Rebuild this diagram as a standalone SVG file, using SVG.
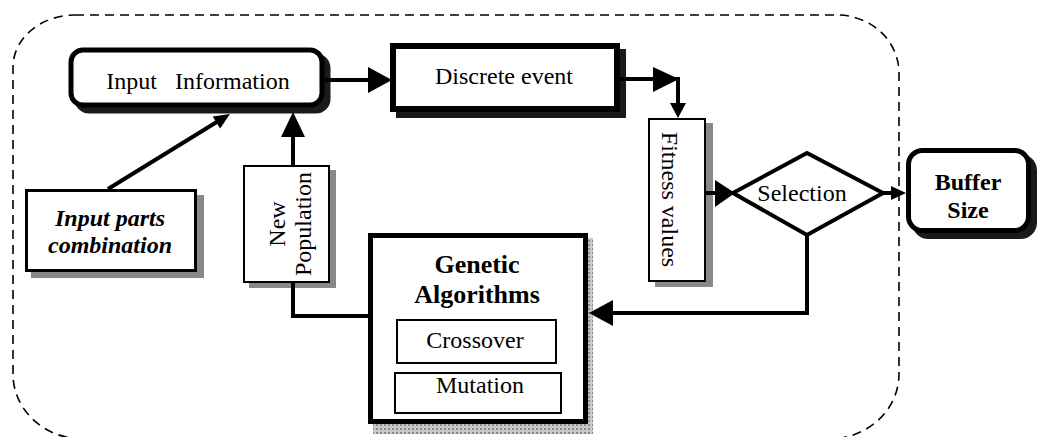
<svg xmlns="http://www.w3.org/2000/svg" width="1041" height="437" viewBox="0 0 1041 437">
<style>
text{font-family:"Liberation Serif","Times New Roman",serif;fill:#000;font-size:24px;text-anchor:middle}
.b{font-weight:bold}
.bi{font-weight:bold;font-style:italic}
.box{fill:#fff;stroke:#000}
.dsh{fill:#1a1a1a;stroke:#1a1a1a}
.gsh{fill:#888}
.ln{fill:none;stroke:#000;stroke-width:4}
.ah{fill:#000}
</style>
<defs>
<pattern id="hatch" width="4" height="4" patternUnits="userSpaceOnUse">
<rect width="4" height="4" fill="#c8c8c8"/>
<rect width="2" height="2" fill="#8a8a8a"/>
</pattern>
</defs>
<path id="boundary" d="M 75,15 H 837 A 62 58 0 0 1 899,73 V 374 A 70 65 0 0 1 829,439 H 83 A 70 65 0 0 1 13,374 V 67 A 62 52 0 0 1 75,15 Z" fill="none" stroke="#000" stroke-width="1.6" stroke-dasharray="9 6"/>
<g id="input-information">
<rect class="dsh" x="77" y="56" width="251" height="55" rx="12" stroke-width="5"/>
<rect class="box" x="71" y="50" width="251" height="55" rx="12" stroke-width="5"/>
<text x="198" y="89" xml:space="preserve">Input   Information</text>
</g>
<g id="discrete-event">
<rect class="dsh" x="399" y="52" width="224" height="63" stroke-width="6"/>
<rect class="box" x="393" y="46" width="224" height="63" stroke-width="6"/>
<text x="504" y="84">Discrete event</text>
</g>
<g id="fitness-values">
<rect class="gsh" x="655" y="123" width="58" height="164"/>
<rect class="box" x="649" y="119" width="56" height="162" stroke-width="2"/>
<text transform="translate(662,199.5) rotate(90)">Fitness values</text>
</g>
<g id="selection">
<polygon class="box" points="807,153 883,193 807,235 733,193" stroke-width="4" stroke-linejoin="miter"/>
<text x="802" y="201">Selection</text>
</g>
<g id="buffer-size">
<rect class="dsh" x="914.5" y="156.5" width="120" height="80" rx="14" stroke-width="5"/>
<rect class="box" x="908.5" y="150.5" width="120" height="80" rx="14" stroke-width="5"/>
<text class="b" x="968" y="190">Buffer</text>
<text class="b" x="968" y="218">Size</text>
</g>
<g id="genetic-algorithms">
<rect x="373" y="238" width="220" height="196" fill="url(#hatch)"/>
<rect class="box" x="370.5" y="235.5" width="215" height="186" stroke-width="5"/>
<text class="b" x="477" y="273" style="font-size:26px">Genetic</text>
<text class="b" x="477" y="303" style="font-size:26px">Algorithms</text>
</g>
<g id="crossover">
<rect class="box" x="397" y="320" width="159" height="43" stroke-width="2"/>
<text x="475" y="348">Crossover</text>
</g>
<g id="mutation">
<rect class="box" x="395" y="373" width="166" height="40" stroke-width="2"/>
<text x="480" y="393">Mutation</text>
</g>
<g id="new-population">
<rect class="gsh" x="249" y="170" width="87" height="118"/>
<rect class="box" x="244" y="166" width="85" height="116" stroke-width="2"/>
<text transform="translate(285,224) rotate(-90)"><tspan x="0" y="0">New</tspan><tspan x="0" y="26">Population</tspan></text>
</g>
<g id="input-parts-combination">
<rect class="gsh" x="31" y="195" width="173" height="83"/>
<rect class="box" x="26.5" y="190.5" width="169" height="80" stroke-width="3"/>
<text class="bi" x="110" y="226">Input parts</text>
<text class="bi" x="110" y="253">combination</text>
</g>
<g id="connectors">
<line class="ln" x1="325" y1="80" x2="372" y2="80"/>
<polygon class="ah" points="368,67 392,80 368,93"/>
<polyline class="ln" points="620,79 678,79 678,106"/>
<polygon class="ah" points="653,67 679,79 653,92"/>
<polygon class="ah" points="670,103 686,103 678,118"/>
<line class="ln" x1="706" y1="193" x2="720" y2="193"/>
<polygon class="ah" points="715,180 735,193 715,207"/>
<line class="ln" x1="883" y1="193" x2="894" y2="193"/>
<polygon class="ah" points="891,186 906,193 891,200"/>
<polyline class="ln" points="807,235 807,313 608,313"/>
<polygon class="ah" points="613,300 589,313 613,326"/>
<line class="ln" x1="293" y1="166" x2="293" y2="134"/>
<polygon class="ah" points="281,137 305,137 293,112"/>
<polyline class="ln" points="293,282 293,316 368,316"/>
<line class="ln" x1="108" y1="189" x2="220" y2="120"/>
<polygon class="ah" points="230,114 220.1,128.4 212.7,116.4"/>
</g>
</svg>
